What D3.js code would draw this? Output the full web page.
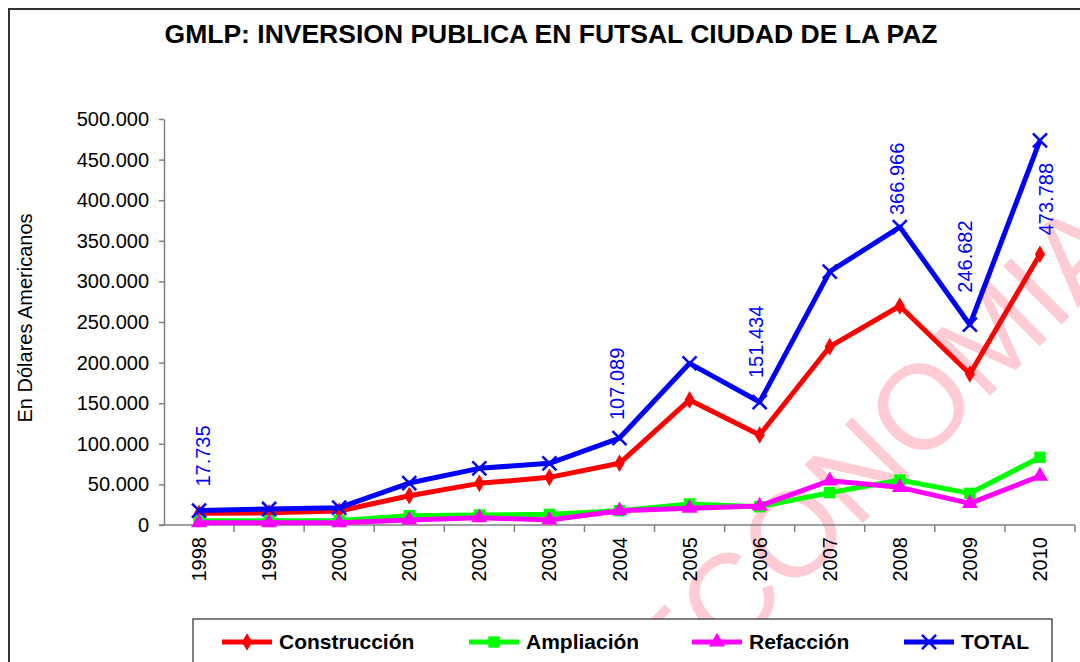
<!DOCTYPE html>
<html>
<head>
<meta charset="utf-8">
<script src="https://cdn.jsdelivr.net/npm/d3@7"></script>
<style>
  body { margin: 0; background: #fff; }
  svg { display: block; font-family: "Liberation Sans", Arial, sans-serif; }
</style>
</head>
<body>
<div id="chart"></div>
<script>
// datos
const years = ["1998", "1999", "2000", "2001", "2002", "2003", "2004", "2005", "2006", "2007", "2008", "2009", "2010"];
const construccion = [14400, 15000, 17200, 36100, 51300, 58700, 76000, 154000, 110800, 219600, 269700, 186000, 333400];
const ampliacion = [5300, 5300, 5500, 11500, 12300, 13100, 17600, 25900, 22500, 39800, 55400, 39000, 83400];
const refaccion = [2800, 2800, 2800, 6200, 9000, 6200, 17600, 20600, 23400, 54600, 46400, 26700, 60300];
const total = [17735, 19700, 21300, 51700, 69800, 76000, 107089, 199100, 151434, 312000, 366966, 246682, 473788];
const yTicks = [0, 50000, 100000, 150000, 200000, 250000, 300000, 350000, 400000, 450000, 500000];
const labelYears = ["1998", "2004", "2006", "2008", "2009", "2010"];

const width = 1080, height = 662;

const series = [
    { name: "Construcción", values: construccion, color: "#ff0000", marker: "diamond" },
    { name: "Ampliación", values: ampliacion, color: "#00ff00", marker: "square" },
    { name: "Refacción", values: refaccion, color: "#ff00ff", marker: "triangle" },
    { name: "TOTAL", values: total, color: "#0000ff", marker: "x" }
];

// desplazamiento manual de cada etiqueta (como en Excel)
const labelShift = [[4, -24], [-3, -18], [-4, -24], [-3, -12], [-5, -32], [6, 95]];

const loc = d3.formatLocale({ decimal: ",", thousands: ".", grouping: [3], currency: ["", ""] });
const fmt = loc.format(",");

let svg = d3.select("#chart").append("svg")
    .attr("width", width)
    .attr("height", height);

// marco exterior
svg.append("rect")
    .attr("x", 9).attr("y", 9)
    .attr("width", 1100).attr("height", 700)
    .attr("fill", "none")
    .attr("stroke", "#333")
    .attr("stroke-width", 2);

// marca de agua
svg.append("text")
    .attr("transform", "translate(672,714) rotate(-45)")
    .attr("font-size", 120)
    .attr("fill", "#ffccd6")
    .text("ECONOMIA");

svg.append("text")
    .attr("x", 551).attr("y", 43)
    .attr("text-anchor", "middle")
    .attr("font-weight", "bold")
    .attr("font-size", 26.5)
    .text("GMLP: INVERSION PUBLICA EN FUTSAL CIUDAD DE LA PAZ");

let x = d3.scaleBand().domain(years).range([164, 1075]);
let y = d3.scaleLinear().domain([0, 500000]).range([525, 119]);
const cx = d => x(d) + x.bandwidth() / 2;

// eje Y
let yAxis = svg.append("g")
    .attr("transform", "translate(164,0)")
    .call(d3.axisLeft(y).tickValues(yTicks).tickFormat(fmt).tickSize(5).tickPadding(10).tickSizeOuter(0));
yAxis.select(".domain").attr("stroke", "#808080").attr("stroke-width", 1.5);
yAxis.selectAll(".tick line").attr("stroke", "#808080").attr("stroke-width", 1.5);
yAxis.selectAll(".tick text").attr("font-size", 20).attr("fill", "#000")
    .attr("font-family", "'Liberation Sans', Arial, sans-serif");

svg.append("text")
    .attr("transform", "translate(32,318) rotate(-90)")
    .attr("text-anchor", "middle")
    .attr("font-size", 20)
    .text("En Dólares Americanos");

// eje X
let xAxis = svg.append("g")
    .attr("transform", "translate(0,525)")
    .call(d3.axisBottom(x).tickSize(0).tickSizeOuter(0));
xAxis.select(".domain").remove();
xAxis.selectAll(".tick text")
    .attr("font-size", 20).attr("fill", "#000")
    .attr("font-family", "'Liberation Sans', Arial, sans-serif")
    .attr("text-anchor", "end")
    .attr("transform", "translate(0,12) rotate(-90)")
    .attr("x", 0).attr("y", 0).attr("dy", "0.35em");

svg.append("line")
    .attr("x1", 159).attr("x2", 1075)
    .attr("y1", 525).attr("y2", 525)
    .attr("stroke", "#808080").attr("stroke-width", 1.5);

svg.append("g").selectAll("line")
    .data(years.slice(1).concat(["end"]))
    .join("line")
    .attr("x1", d => d === "end" ? x.range()[1] : x(d))
    .attr("x2", d => d === "end" ? x.range()[1] : x(d))
    .attr("y1", 525).attr("y2", 532)
    .attr("stroke", "#808080").attr("stroke-width", 1.5);

const symbolPath = {
    diamond: d3.symbol(d3.symbolDiamond, 90)(),
    square: d3.symbol(d3.symbolSquare, 130)(),
    triangle: d3.symbol(d3.symbolTriangle, 110)(),
    x: d3.symbol(d3.symbolTimes, 130)()
};

function drawMarker(g, s) {
    if (s.marker === "x") {
        g.attr("d", symbolPath.x).attr("fill", "none").attr("stroke", s.color).attr("stroke-width", 2.5);
    } else {
        g.attr("d", symbolPath[s.marker]).attr("fill", s.color);
    }
}

let line = d3.line().x((d, i) => cx(years[i])).y(d => y(d));

series.forEach(s => {
    svg.append("path")
        .datum(s.values)
        .attr("d", line)
        .attr("fill", "none")
        .attr("stroke", s.color)
        .attr("stroke-width", 5)
        .attr("stroke-linejoin", "round");
    svg.append("g").selectAll("path")
        .data(s.values)
        .join("path")
        .attr("transform", (d, i) => `translate(${cx(years[i])},${y(d)})`)
        .call(drawMarker, s);
});

// etiquetas de TOTAL
svg.append("g").selectAll("text")
    .data(labelYears)
    .join("text")
    .attr("transform", (d, i) => {
        let v = total[years.indexOf(d)];
        return `translate(${cx(d) + labelShift[i][0]},${y(v) + labelShift[i][1]}) rotate(-90)`;
    })
    .attr("dy", "0.35em")
    .attr("font-size", 20)
    .attr("fill", "#0000ff")
    .text(d => fmt(total[years.indexOf(d)]));

// leyenda
let legend = svg.append("g");
legend.append("rect")
    .attr("x", 193).attr("y", 619)
    .attr("width", 859).attr("height", 60)
    .attr("fill", "#fff").attr("stroke", "#000").attr("stroke-width", 1);

const legendX = [222, 469, 692, 904];
series.forEach((s, i) => {
    let g = legend.append("g").attr("transform", `translate(${legendX[i]},642)`);
    g.append("line").attr("x1", 0).attr("x2", 50)
        .attr("stroke", s.color).attr("stroke-width", 5);
    g.append("path").attr("transform", "translate(25,0)").call(drawMarker, s);
    g.append("text").attr("x", 57).attr("dy", "0.35em")
        .attr("font-size", 21).attr("font-weight", "bold")
        .text(s.name);
});
</script>
</body>
</html>
